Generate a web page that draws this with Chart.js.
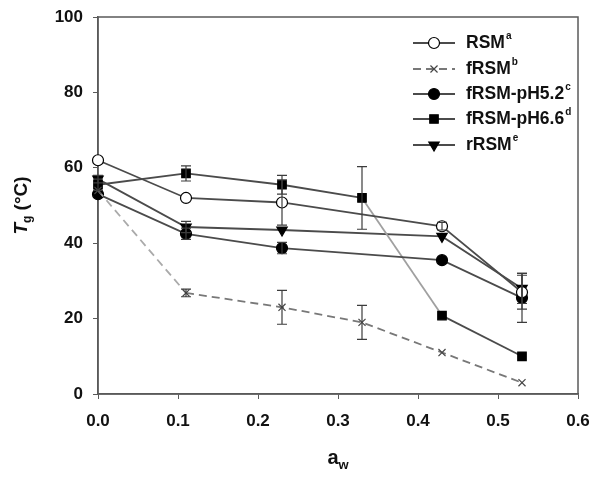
<!DOCTYPE html>
<html>
<head>
<meta charset="utf-8">
<script src="https://cdn.jsdelivr.net/npm/chart.js@4"></script>
<style>
  html, body { margin: 0; padding: 0; background: #fff; }
  #wrap { width: 594px; height: 482px; }
</style>
</head>
<body>
<div id="wrap"><canvas id="myChart" width="594" height="482"></canvas></div>
<script>
// water activity for each sample set
var awAll = [0, 0.11, 0.23, 0.33, 0.43, 0.53];
var awFive = [0, 0.11, 0.23, 0.43, 0.53];

var names = ['RSM', 'fRSM', 'fRSM-pH5.2', 'fRSM-pH6.6', 'rRSM'];
var sups = ['a', 'b', 'c', 'd', 'e'];

var rsm = [62, 52, 50.8, 44.5, 27];
var rsmErr = [0, 0, 6, 1, 4.5];
var frsm = [54, 26.8, 23, 19, 11, 3];
var frsmErr = [0, 1, 4.5, 4.5, 0, 0];
var ph52 = [53, 42.5, 38.7, 35.5, 25.5];
var ph52Err = [0, 1.5, 1.5, 0, 6.5];
var ph66 = [55.5, 58.5, 55.5, 52, 20.8, 10];
var ph66Err = [1.5, 2, 2.5, 8.3, 0, 0];
var rrsm = [57, 44.3, 43.5, 41.8, 28];
var rrsmErr = [1, 1.5, 0, 0, 4];

var xTicks = [0, 0.1, 0.2, 0.3, 0.4, 0.5, 0.6];
var yTicks = [0, 20, 40, 60, 80, 100];

function pts(xs, ys, errs) {
  return xs.map(function (x, i) { return { x: x, y: ys[i], err: errs[i] }; });
}

var FONT = "'Liberation Sans', Arial, sans-serif";
var lineCol = 'rgb(75,75,75)';

var errorBars = {
  id: 'errorBars',
  afterDatasetsDraw: function (chart) {
    var ctx = chart.ctx;
    var ys = chart.scales.y;
    ctx.save();
    ctx.strokeStyle = 'rgb(60,60,60)';
    ctx.lineWidth = 1.2;
    chart.data.datasets.forEach(function (ds, di) {
      var meta = chart.getDatasetMeta(di);
      ds.data.forEach(function (p, i) {
        if (!p.err) return;
        var px = meta.data[i].x;
        var top = ys.getPixelForValue(p.y + p.err);
        var bot = ys.getPixelForValue(p.y - p.err);
        ctx.beginPath();
        ctx.moveTo(px, top); ctx.lineTo(px, bot);
        ctx.moveTo(px - 5, top); ctx.lineTo(px + 5, top);
        ctx.moveTo(px - 5, bot); ctx.lineTo(px + 5, bot);
        ctx.stroke();
      });
    });
    ctx.restore();
  }
};

var frameAndText = {
  id: 'frameAndText',
  beforeDatasetsDraw: function (chart) {
    var a = chart.chartArea, ctx = chart.ctx;
    ctx.save();
    ctx.strokeStyle = 'rgb(90,90,90)';
    ctx.lineWidth = 1.5;
    ctx.strokeRect(a.left, a.top, a.right - a.left, a.bottom - a.top);
    ctx.restore();
  },
  afterDraw: function (chart) {
    var ctx = chart.ctx, a = chart.chartArea;
    ctx.save();
    ctx.fillStyle = '#111';
    ctx.textBaseline = 'middle';

    // y title: T_g (°C)
    ctx.save();
    ctx.translate(22, (a.top + a.bottom) / 2);
    ctx.rotate(-Math.PI / 2);
    var f1 = 'italic bold 19px ' + FONT, f2 = 'bold 12px ' + FONT, f3 = 'bold 19px ' + FONT;
    ctx.font = f1; var w1 = ctx.measureText('T').width;
    ctx.font = f2; var w2 = ctx.measureText('g').width;
    ctx.font = f3; var w3 = ctx.measureText(' (°C)').width;
    var x0 = -(w1 + w2 + w3) / 2;
    ctx.textAlign = 'left';
    ctx.font = f1; ctx.fillText('T', x0, 0);
    ctx.font = f2; ctx.fillText('g', x0 + w1, 6);
    ctx.font = f3; ctx.fillText(' (°C)', x0 + w1 + w2, 0);
    ctx.restore();

    // x title: a_w
    ctx.textAlign = 'left';
    var g1 = 'bold 20px ' + FONT, g2 = 'bold 13px ' + FONT;
    ctx.font = g1; var wa = ctx.measureText('a').width;
    ctx.font = g2; var ww = ctx.measureText('w').width;
    var cx = (a.left + a.right) / 2 - (wa + ww) / 2;
    ctx.font = g1; ctx.fillText('a', cx, 458);
    ctx.font = g2; ctx.fillText('w', cx + wa, 465);

    // legend
    var rowY = [43, 69, 94, 119, 145];
    chart.data.datasets.forEach(function (ds, i) {
      var y = rowY[i];
      ctx.save();
      ctx.strokeStyle = ds.borderColor;
      ctx.lineWidth = ds.borderWidth;
      ctx.setLineDash(ds.borderDash || []);
      ctx.beginPath(); ctx.moveTo(413, y); ctx.lineTo(455, y); ctx.stroke();
      ctx.setLineDash([]);
      ctx.fillStyle = ds.pointBackgroundColor;
      ctx.strokeStyle = ds.pointBorderColor;
      ctx.lineWidth = ds.pointBorderWidth;
      Chart.helpers.drawPoint(ctx, {
        pointStyle: ds.pointStyle, radius: ds.pointRadius,
        rotation: ds.pointRotation || 0, borderWidth: ds.pointBorderWidth
      }, 434, y);
      ctx.restore();
      ctx.fillStyle = '#111';
      ctx.font = 'bold 17.5px ' + FONT;
      ctx.fillText(names[i], 466, y);
      var tw = ctx.measureText(names[i]).width;
      ctx.font = 'bold 10px ' + FONT;
      ctx.fillText(sups[i], 467 + tw, y - 7);
    });
    ctx.restore();
  }
};

function series(label, data, opts) {
  var base = {
    label: label,
    data: data,
    showLine: true,
    borderColor: lineCol,
    borderWidth: 1.8,
    pointBackgroundColor: '#000',
    pointBorderColor: '#000',
    pointBorderWidth: 1.2,
    pointRadius: 5.5,
    pointStyle: 'circle',
    clip: false
  };
  for (var k in opts) base[k] = opts[k];
  return base;
}

var ctx = document.getElementById('myChart');
var myChart = new Chart(ctx, {
  type: 'scatter',
  data: {
    datasets: [
      series(names[0], pts(awFive, rsm, rsmErr), { pointBackgroundColor: '#fff' }),
      series(names[1], pts(awAll, frsm, frsmErr), {
        borderColor: 'rgb(120,120,120)', borderDash: [8, 5], pointStyle: 'crossRot',
        pointRadius: 5, pointBorderColor: 'rgb(70,70,70)',
        segment: { borderColor: function (c) { return c.p0DataIndex === 0 ? 'rgb(170,170,170)' : undefined; } }
      }),
      series(names[2], pts(awFive, ph52, ph52Err), {}),
      series(names[3], pts(awAll, ph66, ph66Err), {
        pointStyle: 'rect', pointRadius: 6,
        segment: { borderColor: function (c) { return c.p0DataIndex === 3 ? 'rgb(160,160,160)' : undefined; } }
      }),
      series(names[4], pts(awFive, rrsm, rrsmErr), { pointStyle: 'triangle', pointRotation: 180, pointRadius: 6 })
    ]
  },
  options: {
    responsive: false,
    animation: false,
    layout: { padding: { top: 17, right: 16, left: 0, bottom: 0 } },
    plugins: { legend: { display: false }, tooltip: { enabled: false } },
    scales: {
      x: {
        type: 'linear', min: 0, max: 0.6,
        afterFit: function (s) { s.height = 88; s.paddingLeft = 0; s.paddingRight = 0; },
        afterBuildTicks: function (s) { s.ticks = xTicks.map(function (v) { return { value: v }; }); },
        ticks: { padding: 12, color: '#111', font: { family: FONT, size: 17, weight: 'bold' },
          callback: function (v) { return Number(v).toFixed(1); } },
        grid: { display: true, drawOnChartArea: false, drawTicks: true, tickLength: 5, color: 'rgb(90,90,90)' },
        border: { display: true, color: 'rgb(90,90,90)', width: 1.5 }
      },
      y: {
        min: 0, max: 100,
        afterFit: function (s) { s.width = 98; s.paddingTop = 0; s.paddingBottom = 0; },
        afterBuildTicks: function (s) { s.ticks = yTicks.map(function (v) { return { value: v }; }); },
        ticks: { padding: 10, color: '#111', font: { family: FONT, size: 17, weight: 'bold' } },
        grid: { display: true, drawOnChartArea: false, drawTicks: true, tickLength: 5, color: 'rgb(90,90,90)' },
        border: { display: true, color: 'rgb(90,90,90)', width: 1.5 }
      }
    }
  },
  plugins: [errorBars, frameAndText]
});
</script>
</body>
</html>
